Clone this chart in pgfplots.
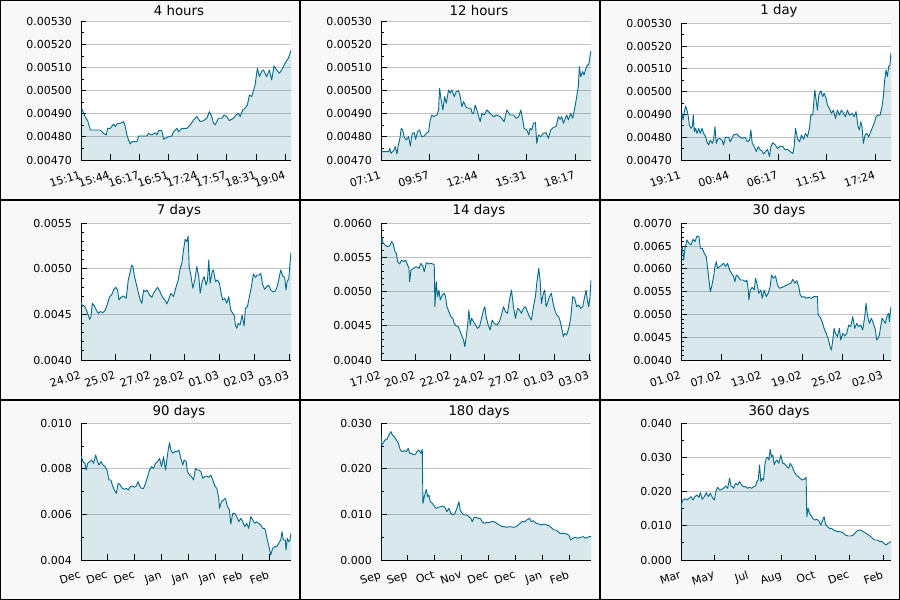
\documentclass[border=0pt]{standalone}
\usepackage{fontspec}
\setmainfont{DejaVu Sans}
\usepackage{pgfplots}
\usepackage{pgfplotstable}
\pgfplotsset{compat=1.18}
\definecolor{lc}{RGB}{0,105,140}
\definecolor{bgc}{RGB}{248,248,248}
\definecolor{gridc}{RGB}{195,195,195}

% 4 hours
\pgfplotstableread{
t v
0 4.9165e-3
4 4.9193e-3
8 4.902e-3
13 4.8847e-3
20 4.8703e-3
28 4.8299e-3
48 4.8299e-3
58 4.8299e-3
68 4.8154e-3
76 4.8082e-3
80 4.8371e-3
88 4.8371e-3
98 4.8558e-3
103 4.8443e-3
108 4.8558e-3
118 4.8587e-3
128 4.8659e-3
133 4.8443e-3
138 4.8082e-3
143 4.7866e-3
148 4.7693e-3
153 4.7794e-3
168 4.7794e-3
173 4.8039e-3
198 4.8039e-3
203 4.8154e-3
213 4.8082e-3
223 4.8183e-3
228 4.8082e-3
233 4.8270e-3
243 4.8270e-3
248 4.7895e-3
263 4.8010e-3
273 4.8039e-3
278 4.8227e-3
288 4.8371e-3
293 4.8227e-3
303 4.8371e-3
318 4.8371e-3
328 4.8515e-3
338 4.8732e-3
348 4.8876e-3
358 4.8659e-3
368 4.8703e-3
378 4.8804e-3
386 4.9092e-3
393 4.8876e-3
398 4.8587e-3
403 4.8515e-3
413 4.8804e-3
423 4.8804e-3
430 4.8948e-3
438 4.8876e-3
446 4.8703e-3
458 4.8804e-3
466 4.8948e-3
473 4.9020e-3
478 4.8876e-3
486 4.9165e-3
493 4.9237e-3
500 4.9381e-3
506 4.9814e-3
513 4.9742e-3
523 5.0247e-3
530 5.0968e-3
536 5.0608e-3
543 5.0824e-3
548 5.0896e-3
558 5.0608e-3
566 5.0896e-3
573 5.0463e-3
580 5.1069e-3
588 5.0896e-3
596 5.0752e-3
603 5.0896e-3
608 5.1040e-3
616 5.1257e-3
623 5.1401e-3
631 5.1733e-3
}\dA

% 12 hours
\pgfplotstableread{
t v
0 4.736e-3
23 4.736e-3
26 4.7505e-3
30 4.7289e-3
38 4.7404e-3
43 4.7577e-3
48 4.726e-3
51 4.7577e-3
56 4.7866e-3
61 4.837e-3
65 4.83e-3
70 4.798e-3
76 4.7866e-3
83 4.801e-3
88 4.7606e-3
94 4.8154e-3
100 4.8183e-3
104 4.7895e-3
110 4.8227e-3
116 4.83e-3
122 4.801e-3
130 4.8039e-3
136 4.8154e-3
143 4.8227e-3
148 4.8732e-3
153 4.8948e-3
158 4.8876e-3
168 4.8948e-3
173 4.9165e-3
176 5.0102e-3
180 4.967e-3
186 4.9165e-3
191 4.9742e-3
196 4.9453e-3
203 5.003e-3
208 4.9886e-3
213 5.003e-3
220 4.9742e-3
226 4.9958e-3
233 5.0e-3
238 4.9742e-3
243 4.9309e-3
248 4.9525e-3
256 4.928e-3
263 4.9237e-3
270 4.9237e-3
274 4.902e-3
278 4.902e-3
283 4.938e-3
288 4.9165e-3
298 4.866e-3
303 4.902e-3
310 4.8948e-3
318 4.9165e-3
328 4.902e-3
338 4.8876e-3
348 4.8948e-3
358 4.8876e-3
370 4.866e-3
378 4.9165e-3
388 4.8948e-3
398 4.8948e-3
406 4.8804e-3
414 4.8876e-3
420 4.9165e-3
426 4.8732e-3
430 4.837e-3
438 4.83e-3
444 4.8082e-3
448 4.837e-3
453 4.83e-3
458 4.8587e-3
464 4.8616e-3
468 4.772e-3
473 4.8082e-3
480 4.801e-3
488 4.8154e-3
496 4.8183e-3
503 4.7938e-3
510 4.83e-3
518 4.8414e-3
526 4.8443e-3
533 4.8876e-3
538 4.876e-3
543 4.8876e-3
548 4.8587e-3
558 4.8948e-3
563 4.8732e-3
570 4.902e-3
576 4.8804e-3
583 4.9309e-3
588 4.9742e-3
593 5.0203e-3
596 5.104e-3
600 5.0608e-3
606 5.0824e-3
610 5.068e-3
616 5.0968e-3
620 5.1112e-3
624 5.1112e-3
628 5.1473e-3
631 5.1733e-3
}\dB

% 1 day
\pgfplotstableread{
t v
0 4.890e-3
3 4.905e-3
6 4.876e-3
10 4.912e-3
14 4.937e-3
18 4.919e-3
22 4.890e-3
25 4.854e-3
30 4.839e-3
34 4.846e-3
37 4.897e-3
40 4.824e-3
44 4.839e-3
48 4.817e-3
53 4.839e-3
58 4.817e-3
63 4.839e-3
68 4.817e-3
74 4.802e-3
78 4.780e-3
83 4.766e-3
88 4.788e-3
94 4.773e-3
98 4.788e-3
102 4.846e-3
106 4.773e-3
110 4.791e-3
116 4.795e-3
123 4.788e-3
128 4.766e-3
133 4.799e-3
143 4.799e-3
148 4.780e-3
153 4.795e-3
158 4.810e-3
168 4.814e-3
176 4.802e-3
183 4.795e-3
193 4.799e-3
200 4.780e-3
206 4.788e-3
210 4.832e-3
214 4.773e-3
220 4.759e-3
226 4.737e-3
232 4.759e-3
238 4.744e-3
243 4.741e-3
248 4.726e-3
254 4.737e-3
260 4.747e-3
266 4.715e-3
270 4.759e-3
276 4.776e-3
283 4.766e-3
290 4.751e-3
298 4.761e-3
306 4.759e-3
313 4.744e-3
320 4.747e-3
328 4.737e-3
336 4.729e-3
340 4.759e-3
344 4.839e-3
350 4.795e-3
356 4.780e-3
362 4.810e-3
368 4.791e-3
374 4.817e-3
380 4.802e-3
386 4.839e-3
390 4.898e-3
396 4.898e-3
402 5.007e-3
406 4.963e-3
410 4.919e-3
414 4.985e-3
420 5.004e-3
426 4.978e-3
430 4.993e-3
436 4.971e-3
440 4.941e-3
446 4.927e-3
452 4.905e-3
458 4.919e-3
464 4.883e-3
470 4.919e-3
476 4.897e-3
482 4.919e-3
488 4.905e-3
494 4.890e-3
500 4.919e-3
506 4.897e-3
514 4.905e-3
520 4.890e-3
526 4.912e-3
532 4.846e-3
536 4.832e-3
540 4.868e-3
544 4.846e-3
548 4.773e-3
553 4.810e-3
558 4.817e-3
564 4.802e-3
570 4.824e-3
576 4.846e-3
582 4.868e-3
586 4.890e-3
592 4.897e-3
598 4.897e-3
604 4.934e-3
608 4.978e-3
612 5.051e-3
616 5.095e-3
620 5.066e-3
624 5.110e-3
628 5.117e-3
631 5.171e-3
}\dC

% 7 days
\pgfplotstableread{
t v
0 4.640e-3
4 4.593e-3
10 4.593e-3
14 4.567e-3
20 4.512e-3
26 4.446e-3
30 4.476e-3
34 4.622e-3
40 4.593e-3
46 4.549e-3
52 4.512e-3
58 4.531e-3
66 4.520e-3
73 4.549e-3
80 4.622e-3
86 4.695e-3
92 4.714e-3
98 4.768e-3
104 4.798e-3
110 4.768e-3
114 4.659e-3
120 4.688e-3
128 4.703e-3
136 4.677e-3
142 4.878e-3
148 4.970e-3
152 5.043e-3
156 5.025e-3
161 4.915e-3
168 4.805e-3
174 4.714e-3
178 4.659e-3
183 4.622e-3
188 4.768e-3
193 4.750e-3
198 4.768e-3
206 4.714e-3
213 4.688e-3
218 4.732e-3
224 4.768e-3
230 4.798e-3
236 4.761e-3
244 4.695e-3
252 4.659e-3
258 4.615e-3
263 4.659e-3
270 4.732e-3
278 4.695e-3
286 4.805e-3
292 4.878e-3
298 5.006e-3
303 5.061e-3
308 5.207e-3
313 5.325e-3
318 5.299e-3
322 5.361e-3
325 5.025e-3
330 4.933e-3
336 4.787e-3
342 4.878e-3
348 5.025e-3
354 4.915e-3
358 4.732e-3
364 4.860e-3
370 4.915e-3
376 4.823e-3
380 4.878e-3
384 5.098e-3
388 4.842e-3
394 4.970e-3
398 4.988e-3
404 4.860e-3
410 4.878e-3
416 4.842e-3
422 4.714e-3
426 4.659e-3
432 4.677e-3
438 4.622e-3
444 4.695e-3
450 4.549e-3
456 4.512e-3
460 4.494e-3
464 4.384e-3
468 4.348e-3
472 4.402e-3
478 4.384e-3
484 4.494e-3
490 4.373e-3
494 4.567e-3
500 4.585e-3
506 4.695e-3
512 4.805e-3
518 4.944e-3
524 4.907e-3
530 4.933e-3
536 4.933e-3
540 4.951e-3
546 4.823e-3
552 4.776e-3
558 4.805e-3
564 4.823e-3
570 4.768e-3
576 4.750e-3
582 4.750e-3
588 4.787e-3
594 4.878e-3
600 4.988e-3
606 4.922e-3
612 4.907e-3
616 4.768e-3
620 4.878e-3
624 4.878e-3
628 5.061e-3
631 5.178e-3
}\dD

% 14 days
\pgfplotstableread{
t v
0 5.707e-3
3 5.795e-3
6 5.717e-3
12 5.683e-3
18 5.659e-3
26 5.668e-3
32 5.732e-3
36 5.707e-3
42 5.585e-3
46 5.561e-3
50 5.439e-3
56 5.405e-3
62 5.463e-3
68 5.439e-3
74 5.463e-3
80 5.390e-3
84 5.341e-3
86 5.146e-3
90 5.317e-3
98 5.341e-3
106 5.366e-3
114 5.341e-3
120 5.415e-3
126 5.366e-3
130 5.293e-3
136 5.424e-3
143 5.405e-3
150 5.415e-3
156 5.405e-3
160 5.390e-3
162 4.780e-3
166 5.146e-3
170 4.927e-3
174 5.024e-3
178 4.878e-3
184 4.951e-3
190 4.976e-3
194 4.927e-3
198 4.780e-3
204 4.707e-3
210 4.634e-3
216 4.610e-3
220 4.537e-3
226 4.498e-3
232 4.488e-3
238 4.415e-3
244 4.341e-3
248 4.293e-3
252 4.195e-3
256 4.341e-3
260 4.488e-3
264 4.732e-3
268 4.512e-3
272 4.610e-3
278 4.561e-3
284 4.512e-3
290 4.463e-3
296 4.488e-3
302 4.610e-3
308 4.732e-3
312 4.780e-3
316 4.634e-3
322 4.512e-3
328 4.439e-3
334 4.585e-3
340 4.537e-3
348 4.512e-3
356 4.561e-3
362 4.659e-3
368 4.780e-3
374 4.707e-3
380 4.683e-3
386 4.878e-3
392 5.024e-3
398 4.780e-3
404 4.610e-3
410 4.756e-3
416 4.732e-3
422 4.683e-3
428 4.756e-3
434 4.780e-3
440 4.707e-3
446 4.634e-3
452 4.585e-3
458 4.780e-3
464 4.927e-3
468 5.122e-3
474 5.341e-3
478 5.171e-3
482 4.829e-3
488 4.976e-3
492 5.024e-3
496 4.780e-3
500 4.829e-3
506 4.927e-3
512 4.976e-3
516 4.854e-3
522 4.732e-3
528 4.659e-3
534 4.634e-3
540 4.537e-3
544 4.439e-3
548 4.341e-3
552 4.390e-3
558 4.366e-3
564 4.463e-3
570 4.610e-3
576 4.927e-3
582 4.902e-3
588 4.780e-3
594 4.805e-3
600 4.756e-3
606 4.780e-3
612 4.927e-3
616 5.024e-3
620 4.878e-3
624 4.780e-3
628 4.927e-3
631 5.171e-3
}\dE

% 30 days
\pgfplotstableread{
t v
0 6.415e-3
4 6.488e-3
8 6.195e-3
12 6.451e-3
18 6.634e-3
24 6.561e-3
30 6.524e-3
36 6.649e-3
42 6.598e-3
48 6.722e-3
54 6.707e-3
58 6.451e-3
64 6.451e-3
70 6.341e-3
76 6.268e-3
80 6.012e-3
84 5.756e-3
88 5.500e-3
92 5.610e-3
98 5.829e-3
102 6.049e-3
106 6.159e-3
110 6.012e-3
116 6.049e-3
122 6.085e-3
128 6.122e-3
134 6.049e-3
140 6.122e-3
146 5.976e-3
152 5.902e-3
158 5.829e-3
162 5.720e-3
166 5.866e-3
172 5.829e-3
178 5.756e-3
186 5.756e-3
194 5.720e-3
198 5.756e-3
202 5.537e-3
204 5.317e-3
208 5.537e-3
214 5.595e-3
220 5.537e-3
224 5.793e-3
228 5.683e-3
234 5.463e-3
240 5.537e-3
244 5.354e-3
250 5.537e-3
256 5.390e-3
262 5.463e-3
268 5.610e-3
272 5.866e-3
278 5.793e-3
284 5.844e-3
290 5.646e-3
296 5.573e-3
304 5.595e-3
312 5.624e-3
318 5.646e-3
324 5.668e-3
330 5.683e-3
336 5.771e-3
342 5.683e-3
348 5.741e-3
354 5.610e-3
358 5.427e-3
364 5.376e-3
370 5.390e-3
376 5.354e-3
384 5.376e-3
392 5.354e-3
398 5.390e-3
406 5.390e-3
410 5.390e-3
412 4.988e-3
418 4.937e-3
424 4.841e-3
430 4.695e-3
436 4.585e-3
442 4.476e-3
448 4.293e-3
452 4.220e-3
456 4.439e-3
460 4.695e-3
464 4.585e-3
470 4.512e-3
476 4.695e-3
480 4.439e-3
486 4.585e-3
492 4.527e-3
498 4.585e-3
504 4.768e-3
510 4.732e-3
516 4.951e-3
522 4.695e-3
528 4.805e-3
534 4.732e-3
540 4.768e-3
546 4.659e-3
552 4.951e-3
556 5.244e-3
560 4.988e-3
566 4.805e-3
572 4.915e-3
578 4.805e-3
584 4.659e-3
588 4.439e-3
592 4.476e-3
596 4.549e-3
600 4.732e-3
604 4.915e-3
608 4.878e-3
614 4.805e-3
620 4.988e-3
624 5.024e-3
626 4.841e-3
631 5.171e-3
}\dF

% 90 days
\pgfplotstableread{
t v
0 8.566e-3
6 8.317e-3
12 8.244e-3
16 7.951e-3
20 8.244e-3
26 8.317e-3
32 8.390e-3
38 8.244e-3
44 8.610e-3
48 8.390e-3
54 8.171e-3
60 8.317e-3
66 8.171e-3
72 8.098e-3
78 7.951e-3
84 7.512e-3
90 7.512e-3
94 7.293e-3
100 7.073e-3
106 6.927e-3
112 7.366e-3
118 7.293e-3
124 7.146e-3
130 7.102e-3
136 7.146e-3
142 7.073e-3
148 7.220e-3
154 7.249e-3
160 7.190e-3
166 7.249e-3
172 7.439e-3
176 7.249e-3
182 7.146e-3
188 7.146e-3
194 7.366e-3
200 7.659e-3
206 7.951e-3
212 8.098e-3
218 8.024e-3
224 8.244e-3
230 8.317e-3
236 8.463e-3
242 8.098e-3
248 8.537e-3
254 7.951e-3
258 8.390e-3
262 8.829e-3
266 9.151e-3
270 8.829e-3
276 8.683e-3
282 8.756e-3
288 8.756e-3
294 8.829e-3
300 8.463e-3
306 8.171e-3
310 8.390e-3
316 8.317e-3
320 7.878e-3
326 7.732e-3
332 7.659e-3
338 7.512e-3
344 8.024e-3
348 7.951e-3
354 7.951e-3
360 7.878e-3
366 7.585e-3
372 7.659e-3
378 7.688e-3
384 7.629e-3
390 7.732e-3
396 7.512e-3
402 7.249e-3
408 7.146e-3
414 6.707e-3
416 6.268e-3
422 6.561e-3
428 6.634e-3
434 6.707e-3
440 6.341e-3
446 6.195e-3
450 5.580e-3
456 6.049e-3
462 6.049e-3
468 5.902e-3
474 5.683e-3
480 5.829e-3
486 5.683e-3
492 5.463e-3
498 5.610e-3
504 5.390e-3
510 5.902e-3
516 5.756e-3
522 5.610e-3
528 5.683e-3
534 5.610e-3
540 5.537e-3
546 5.390e-3
552 5.390e-3
556 5.171e-3
560 4.878e-3
566 4.512e-3
570 4.220e-3
576 4.512e-3
582 4.585e-3
588 4.585e-3
594 4.732e-3
600 4.878e-3
604 5.244e-3
608 4.878e-3
614 4.878e-3
616 4.439e-3
620 4.951e-3
624 4.805e-3
628 4.878e-3
631 5.171e-3
}\dG

% 180 days
\pgfplotstableread{
t v
0 27.44e-3
2 25.24e-3
6 25.61e-3
12 26.34e-3
18 26.49e-3
24 27.44e-3
30 28.17e-3
34 27.44e-3
40 27.07e-3
46 26.34e-3
52 25.61e-3
58 24.15e-3
64 23.78e-3
70 24.00e-3
76 23.78e-3
82 24.51e-3
86 23.41e-3
92 23.41e-3
98 23.05e-3
104 23.27e-3
108 23.78e-3
114 24.15e-3
120 23.41e-3
124 24.29e-3
126 12.44e-3
130 13.90e-3
136 15.51e-3
140 13.90e-3
144 14.27e-3
148 12.80e-3
154 12.44e-3
160 11.85e-3
166 11.34e-3
172 11.56e-3
178 11.71e-3
186 11.85e-3
192 11.56e-3
198 10.61e-3
204 11.34e-3
210 10.24e-3
216 9.88e-3
222 10.24e-3
228 11.34e-3
234 12.80e-3
238 10.98e-3
244 10.24e-3
250 9.88e-3
258 9.88e-3
264 9.51e-3
270 9.15e-3
274 8.41e-3
280 9.37e-3
286 9.37e-3
292 9.15e-3
298 9.15e-3
304 8.41e-3
310 8.05e-3
316 8.20e-3
324 8.20e-3
332 8.41e-3
340 8.41e-3
348 8.05e-3
356 7.68e-3
364 7.32e-3
370 7.32e-3
378 7.17e-3
388 7.32e-3
398 7.17e-3
406 7.32e-3
412 7.68e-3
418 8.05e-3
424 8.41e-3
432 8.41e-3
438 8.78e-3
446 9.15e-3
452 8.41e-3
458 8.63e-3
466 8.05e-3
474 7.90e-3
482 7.68e-3
490 7.90e-3
498 7.68e-3
506 7.46e-3
514 6.95e-3
520 6.59e-3
526 6.59e-3
532 6.22e-3
538 5.85e-3
548 5.85e-3
558 5.71e-3
564 5.49e-3
570 4.39e-3
576 4.76e-3
584 4.98e-3
592 4.76e-3
600 4.98e-3
608 5.12e-3
614 4.76e-3
620 4.98e-3
626 5.12e-3
631 5.12e-3
}\dH

% 360 days
\pgfplotstableread{
t v
0 14.63e-3
2 16.59e-3
6 17.56e-3
12 17.95e-3
18 17.56e-3
24 18.05e-3
30 18.54e-3
36 17.56e-3
42 18.54e-3
48 19.02e-3
54 18.34e-3
58 19.71e-3
64 17.76e-3
70 18.54e-3
76 19.71e-3
82 18.54e-3
88 19.51e-3
94 18.34e-3
100 17.56e-3
106 20.49e-3
110 21.27e-3
116 20.49e-3
122 20.68e-3
128 20.98e-3
134 21.66e-3
140 20.98e-3
146 23.90e-3
150 21.66e-3
154 21.46e-3
158 20.98e-3
164 22.44e-3
170 21.95e-3
176 22.93e-3
182 21.95e-3
188 21.46e-3
194 21.46e-3
200 20.98e-3
206 21.27e-3
212 20.98e-3
218 21.46e-3
224 21.66e-3
228 22.93e-3
232 23.41e-3
236 27.80e-3
240 22.93e-3
244 23.90e-3
248 23.41e-3
252 27.80e-3
256 29.76e-3
260 30.05e-3
264 29.27e-3
268 32.39e-3
272 30.24e-3
276 30.73e-3
280 27.90e-3
284 28.78e-3
288 29.27e-3
294 28.29e-3
300 30.73e-3
306 28.29e-3
312 28.10e-3
318 27.32e-3
324 26.83e-3
328 28.29e-3
334 27.32e-3
340 25.85e-3
346 24.88e-3
352 24.39e-3
358 23.90e-3
364 23.41e-3
370 23.61e-3
376 24.20e-3
378 12.68e-3
382 15.12e-3
386 13.66e-3
390 13.17e-3
396 12.20e-3
402 11.71e-3
408 11.90e-3
414 11.51e-3
420 10.24e-3
426 11.71e-3
430 12.68e-3
434 10.54e-3
440 9.76e-3
446 9.27e-3
452 9.27e-3
458 8.78e-3
464 8.59e-3
470 8.29e-3
478 8.29e-3
486 8.00e-3
494 7.32e-3
502 7.02e-3
510 7.02e-3
518 7.32e-3
524 8.00e-3
530 8.59e-3
536 8.78e-3
542 8.59e-3
548 8.29e-3
556 7.80e-3
564 7.32e-3
570 6.83e-3
576 6.34e-3
582 5.85e-3
590 5.85e-3
598 5.37e-3
604 5.37e-3
610 4.88e-3
616 4.39e-3
622 4.88e-3
626 5.07e-3
631 5.37e-3
}\dI

\pgfplotsset{
  cell/.style={
    anchor=south west,
    scale only axis, width=210pt,
    xmin=0, xmax=631,
    axis x line*=bottom, axis y line*=left,
    axis line style={black, line width=0.9pt},
    tick align=inside,
    major tick length=5.5pt, minor tick length=3pt,
    every tick/.style={black, line width=0.9pt},
    ymajorgrids, grid style={gridc, line width=0.9pt},
    axis background/.style={fill=white},
    title style={font=\fontsize{13.3}{15}\selectfont, anchor=base, at={(0.4667,1)}},
    tick label style={font=\fontsize{11}{13}\selectfont},
    xticklabel style={rotate=18, anchor=north east, inner sep=0pt, xshift=-5pt, yshift=-9pt},
    yticklabel style={inner sep=0pt, xshift=-9pt},
    scaled y ticks=false,
    /pgf/number format/assume math mode=true,
    yticklabel style={/pgf/number format/.cd, fixed, fixed zerofill},
  },
  areaf/.style={sharp plot, fill=lc, fill opacity=0.15, draw=none},
  linef/.style={sharp plot, draw=lc, line width=0.9pt, line join=round},
}

\begin{document}
\begin{tikzpicture}[x=1pt,y=1pt]
\useasboundingbox (0,0) rectangle (900,600);
\foreach \c in {0,1,2}{\foreach \r in {0,1,2}{
  \filldraw[fill=bgc, draw=black, line width=1pt] (300*\c+0.5, 200*\r+0.5) rectangle (300*\c+299.5, 200*\r+199.5);
}}

% ---- row 1
\begin{axis}[cell, at={(81pt,440pt)}, height=138.7pt, title={4 hours}, title style={yshift=0.3pt},
  ymin=0.0047, ymax=0.0053, ytick={0.0047,0.0048,0.0049,0.005,0.0051,0.0052,0.0053}, minor y tick num=1,
  yticklabel style={/pgf/number format/precision=5},
  xtick={0,87,176,264,351,438,527,615},
  xticklabels={15:11,15:44,16:17,16:51,17:24,17:57,18:31,19:04}]
\addplot[areaf] table[x=t,y=v] {\dA} \closedcycle;
\addplot[linef] table[x=t,y=v] {\dA};
\end{axis}

\begin{axis}[cell, at={(381pt,440pt)}, height=138.7pt, title={12 hours}, title style={yshift=0.3pt},
  ymin=0.0047, ymax=0.0053, ytick={0.0047,0.0048,0.0049,0.005,0.0051,0.0052,0.0053}, minor y tick num=1,
  yticklabel style={/pgf/number format/precision=5},
  xtick={0,146,292,438,584},
  xticklabels={07:11,09:57,12:44,15:31,18:17}]
\addplot[areaf] table[x=t,y=v] {\dB} \closedcycle;
\addplot[linef] table[x=t,y=v] {\dB};
\end{axis}

\begin{axis}[cell, at={(681pt,440pt)}, height=136.7pt, title={1 day}, title style={yshift=2.3pt},
  ymin=0.0047, ymax=0.0053, ytick={0.0047,0.0048,0.0049,0.005,0.0051,0.0052,0.0053}, minor y tick num=1,
  yticklabel style={/pgf/number format/precision=5},
  xtick={0,146,292,438,584},
  xticklabels={19:11,00:44,06:17,11:51,17:24}]
\addplot[areaf] table[x=t,y=v] {\dC} \closedcycle;
\addplot[linef] table[x=t,y=v] {\dC};
\end{axis}

% ---- row 2
\begin{axis}[cell, at={(81pt,240pt)}, height=136.7pt, title={7 days}, title style={yshift=2.3pt},
  ymin=0.004, ymax=0.0055, ytick={0.004,0.0045,0.005,0.0055}, minor y tick num=4,
  yticklabel style={/pgf/number format/precision=4},
  xtick={0,104,210,311,416,521,626},
  xticklabels={24.02,25.02,27.02,28.02,01.03,02.03,03.03}]
\addplot[areaf] table[x=t,y=v] {\dD} \closedcycle;
\addplot[linef] table[x=t,y=v] {\dD};
\end{axis}

\begin{axis}[cell, at={(381pt,240pt)}, height=136.7pt, title={14 days}, title style={yshift=2.3pt},
  ymin=0.004, ymax=0.006, ytick={0.004,0.0045,0.005,0.0055,0.006}, minor y tick num=4,
  yticklabel style={/pgf/number format/precision=4},
  xtick={0,104,210,311,416,521,626},
  xticklabels={17.02,20.02,22.02,24.02,27.02,01.03,03.03}]
\addplot[areaf] table[x=t,y=v] {\dE} \closedcycle;
\addplot[linef] table[x=t,y=v] {\dE};
\end{axis}

\begin{axis}[cell, at={(681pt,240pt)}, height=136.7pt, title={30 days}, title style={yshift=2.3pt},
  ymin=0.004, ymax=0.007, ytick={0.004,0.0045,0.005,0.0055,0.006,0.0065,0.007}, minor y tick num=4,
  yticklabel style={/pgf/number format/precision=4},
  xtick={0,122,243,364,485,607},
  xticklabels={01.02,07.02,13.02,19.02,25.02,02.03}]
\addplot[areaf] table[x=t,y=v] {\dF} \closedcycle;
\addplot[linef] table[x=t,y=v] {\dF};
\end{axis}

% ---- row 3
\begin{axis}[cell, at={(81pt,40pt)}, height=136.7pt, title={90 days}, title style={yshift=2.3pt},
  ymin=0.004, ymax=0.010, ytick={0.004,0.006,0.008,0.010}, minor y tick num=1,
  yticklabel style={/pgf/number format/precision=3},
  xtick={0,80,162,243,324,405,485,566},
  xticklabels={Dec,Dec,Dec,Jan,Jan,Jan,Feb,Feb}]
\addplot[areaf] table[x=t,y=v] {\dG} \closedcycle;
\addplot[linef] table[x=t,y=v] {\dG};
\end{axis}

\begin{axis}[cell, at={(381pt,40pt)}, height=136.7pt, title={180 days}, title style={yshift=2.3pt},
  ymin=0, ymax=0.030, ytick={0,0.010,0.020,0.030}, minor y tick num=1,
  yticklabel style={/pgf/number format/precision=3},
  xtick={0,80,162,243,324,405,485,566},
  xticklabels={Sep,Sep,Oct,Nov,Dec,Dec,Jan,Feb}]
\addplot[areaf] table[x=t,y=v] {\dH} \closedcycle;
\addplot[linef] table[x=t,y=v] {\dH};
\end{axis}

\begin{axis}[cell, at={(681pt,40pt)}, height=136.7pt, title={360 days}, title style={yshift=2.3pt},
  ymin=0, ymax=0.040, ytick={0,0.010,0.020,0.030,0.040}, minor y tick num=1,
  yticklabel style={/pgf/number format/precision=3},
  xtick={0,101,203,303,404,506,608},
  xticklabels={Mar,May,Jul,Aug,Oct,Dec,Feb}]
\addplot[areaf] table[x=t,y=v] {\dI} \closedcycle;
\addplot[linef] table[x=t,y=v] {\dI};
\end{axis}
\end{tikzpicture}
\end{document}
